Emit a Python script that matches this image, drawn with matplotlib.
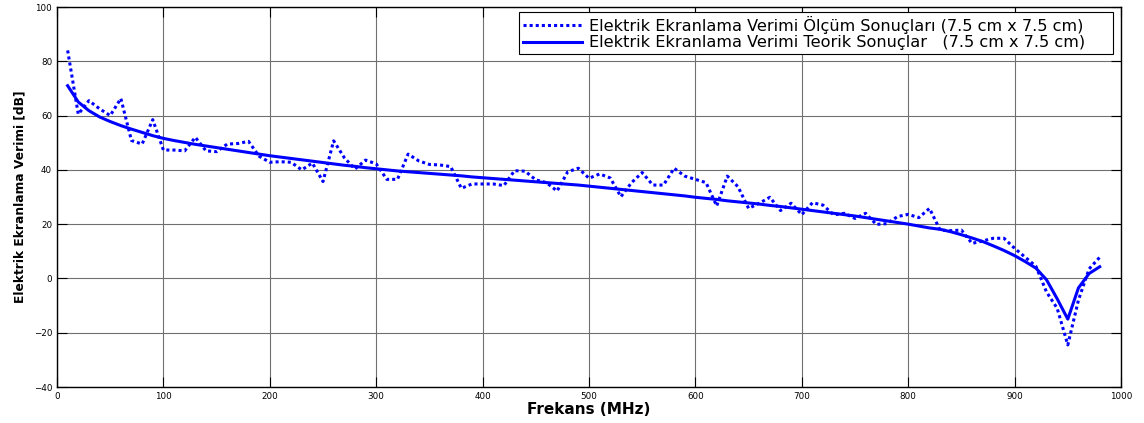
import numpy as np
import matplotlib
matplotlib.use("Agg")
import matplotlib.pyplot as plt

# Frequency points (MHz)
freq = np.arange(10, 990, 10)

# Measured electric shielding effectiveness (dB)
measured = [
    84.0, 60.5, 65.5, 62.5, 60.0, 66.3, 50.8, 49.5, 58.5, 47.3,
    47.3, 47.0, 52.0, 47.0, 46.7, 49.5, 49.7, 50.5, 45.0, 42.8,
    43.0, 42.8, 40.0, 42.5, 35.7, 50.7, 44.5, 40.3, 43.6, 42.2,
    36.5, 36.5, 45.8, 43.3, 42.0, 41.8, 41.2, 33.2, 34.8, 34.8,
    34.8, 34.2, 39.7, 39.5, 36.3, 35.3, 32.2, 39.3, 40.6, 36.9,
    38.5, 37.0, 30.1, 35.3, 39.0, 34.4, 34.4, 40.6, 37.7, 36.5,
    35.3, 26.7, 37.7, 33.8, 25.8, 27.7, 29.9, 25.0, 27.7, 23.5,
    27.9, 27.0, 23.4, 24.0, 22.1, 24.0, 19.9, 20.2, 22.8, 23.6,
    22.4, 25.8, 17.8, 17.6, 17.8, 12.9, 13.8, 14.8, 14.8, 11.1,
    7.8, 4.5, -5.0, -11.0, -24.5, -8.0, 3.5, 7.8,
]

# Theoretical electric shielding effectiveness (dB)
theory = [
    71.0, 65.0, 61.8, 59.5, 57.8, 56.3, 55.0, 53.8, 52.6, 51.6,
    50.8, 50.1, 49.4, 48.8, 48.2, 47.6, 47.0, 46.4, 45.8, 45.2,
    44.7, 44.2, 43.7, 43.2, 42.7, 42.2, 41.7, 41.3, 40.8, 40.4,
    40.0, 39.6, 39.3, 39.0, 38.7, 38.4, 38.1, 37.8, 37.4, 37.1,
    36.8, 36.5, 36.2, 35.9, 35.6, 35.3, 35.0, 34.7, 34.4, 34.0,
    33.6, 33.2, 32.8, 32.4, 32.0, 31.6, 31.2, 30.8, 30.4, 29.9,
    29.5, 29.1, 28.6, 28.2, 27.8, 27.4, 26.9, 26.5, 26.0, 25.5,
    25.0, 24.5, 24.0, 23.5, 23.0, 22.4, 21.8, 21.2, 20.6, 20.0,
    19.3, 18.6, 18.1, 17.2, 16.1, 14.9, 13.6, 12.0, 10.3, 8.4,
    6.2, 3.8, -0.5, -7.5, -15.0, -3.5, 1.8, 4.3,
]

xticks = list(range(0, 1001, 100))
yticks = list(range(-40, 101, 20))

label_meas = "Elektrik Ekranlama Verimi Ölçüm Sonuçları (7.5 cm x 7.5 cm)"
label_theo = "Elektrik Ekranlama Verimi Teorik Sonuçlar   (7.5 cm x 7.5 cm)"

plt.rcParams["font.family"] = ["DejaVu Sans"]

W, H = 1144, 423
fig = plt.figure(figsize=(W / 100, H / 100), dpi=100)
fig.patch.set_facecolor("white")
ax = fig.add_axes([57 / W, 1 - 387 / H, (1121 - 57) / W, (387 - 7) / H])

ax.plot(freq, measured, color="#0000ff", lw=2.2, ls=(0, (1, 1)), label=label_meas)
ax.plot(freq, theory, color="#0000ff", lw=2.2, ls="-", label=label_theo)

ax.set_xlim(0, 1000)
ax.set_ylim(-40, 100)
ax.set_xticks(xticks)
ax.set_yticks(yticks)
ax.grid(True, color="#707070", lw=0.8, ls="-")
ax.set_axisbelow(True)
ax.tick_params(direction="in", length=7, width=0.8, top=True, right=True,
               labelsize=6.3, pad=3.5, colors="black")
for sp in ax.spines.values():
    sp.set_linewidth(1.0)
    sp.set_color("black")

ax.set_xlabel("Frekans (MHz)", fontsize=11, fontweight="bold", labelpad=1)
ax.set_ylabel("Elektrik Ekranlama Verimi [dB]", fontsize=8.8, fontweight="bold", labelpad=5)

# Legend box stretched to a fixed width, entries left-aligned inside it
leg = ax.legend(loc="upper left",
                bbox_to_anchor=(519 / W, 1 - 56 / H, (1113 - 519) / W, 44 / H),
                bbox_transform=fig.transFigure, mode="expand", borderaxespad=0,
                fontsize=11.6, fancybox=False, framealpha=1, edgecolor="black",
                handlelength=3.7, handletextpad=0.42, labelspacing=0.1,
                borderpad=0.22)
leg.get_frame().set_linewidth(0.8)

fig.savefig("out.png", dpi=100, facecolor="white")
